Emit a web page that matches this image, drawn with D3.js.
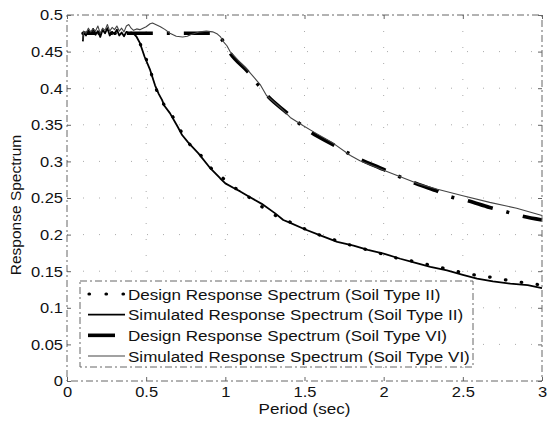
<!DOCTYPE html>
<html>
<head>
<meta charset="utf-8">
<script src="https://cdn.jsdelivr.net/npm/d3@7"></script>
<style>
  body { margin: 0; background: #fff; }
  text { font-family: "Liberation Sans", Arial, sans-serif; fill: #111; }
</style>
</head>
<body>
<script>
var svgWidth = 548;
var svgHeight = 421;

var plot = { left: 67, right: 542, top: 15, bottom: 381 };

// ---- data ----
var xTicks = [0, 0.5, 1, 1.5, 2, 2.5, 3];
var xTickLabels = ["0", "0.5", "1", "1.5", "2", "2.5", "3"];
var yTicks = [0, 0.05, 0.1, 0.15, 0.2, 0.25, 0.3, 0.35, 0.4, 0.45, 0.5];
var yTickLabels = ["0", "0.05", "0.1", "0.15", "0.2", "0.25", "0.3", "0.35", "0.4", "0.45", "0.5"];

var designIIPeriod = [0.1, 0.42, 0.45, 0.5, 0.525, 0.556, 0.6, 0.66, 0.71, 0.765, 0.835, 0.9, 0.98, 1.06, 1.15, 1.2, 1.3, 1.4, 1.5, 1.6, 1.7, 1.8, 1.9, 2.0, 2.1, 2.2, 2.3, 2.4, 2.5, 2.6, 2.7, 2.8, 2.9, 3.0];
var designIIValue  = [0.475, 0.475, 0.466, 0.440, 0.425, 0.403, 0.382, 0.364, 0.345, 0.326, 0.311, 0.293, 0.278, 0.264, 0.251, 0.243, 0.228, 0.218, 0.208, 0.199, 0.192, 0.185, 0.179, 0.173, 0.167, 0.163, 0.158, 0.153, 0.148, 0.144, 0.141, 0.137, 0.134, 0.131];

var simIIPeriod = [0.1, 0.105, 0.12, 0.135, 0.15, 0.165, 0.18, 0.195, 0.21, 0.225, 0.24, 0.255, 0.27, 0.285, 0.3, 0.315, 0.33, 0.345, 0.36, 0.375, 0.39, 0.405, 0.42, 0.44, 0.46, 0.49, 0.525, 0.556, 0.58, 0.6, 0.615, 0.65, 0.7, 0.727, 0.765, 0.83, 0.9, 0.967, 1.0, 1.05, 1.094, 1.14, 1.23, 1.315, 1.366, 1.41, 1.505, 1.6, 1.707, 1.81, 1.9, 2.0, 2.105, 2.19, 2.295, 2.4, 2.5, 2.59, 2.69, 2.8, 2.91, 3.0];
var simIIValue  = [0.464, 0.477, 0.472, 0.479, 0.474, 0.481, 0.473, 0.478, 0.470, 0.480, 0.475, 0.482, 0.472, 0.477, 0.474, 0.480, 0.472, 0.476, 0.471, 0.477, 0.475, 0.476, 0.475, 0.470, 0.462, 0.443, 0.425, 0.404, 0.392, 0.384, 0.376, 0.366, 0.347, 0.336, 0.326, 0.311, 0.292, 0.277, 0.270, 0.264, 0.259, 0.253, 0.242, 0.229, 0.220, 0.216, 0.207, 0.199, 0.190, 0.185, 0.179, 0.174, 0.167, 0.162, 0.156, 0.151, 0.145, 0.140, 0.136, 0.133, 0.131, 0.127];

var designVIPeriod = [0.1, 0.935, 0.98, 1.03, 1.144, 1.21, 1.264, 1.385, 1.46, 1.54, 1.68, 1.77, 1.85, 2.0, 2.08, 2.19, 2.33, 2.42, 2.52, 2.67, 2.76, 2.86, 3.0];
var designVIValue  = [0.475, 0.475, 0.466, 0.448, 0.422, 0.404, 0.390, 0.367, 0.353, 0.340, 0.323, 0.312, 0.303, 0.289, 0.281, 0.271, 0.260, 0.252, 0.247, 0.237, 0.232, 0.226, 0.220];

var simVIPeriod = [0.1, 0.105, 0.12, 0.135, 0.15, 0.165, 0.18, 0.195, 0.21, 0.225, 0.24, 0.255, 0.27, 0.285, 0.3, 0.315, 0.33, 0.345, 0.36, 0.375, 0.39, 0.405, 0.42, 0.44, 0.46, 0.48, 0.5, 0.525, 0.54, 0.56, 0.59, 0.62, 0.65, 0.69, 0.73, 0.76, 0.78, 0.81, 0.84, 0.88, 0.92, 0.95, 0.97, 0.99, 1.01, 1.03, 1.09, 1.14, 1.18, 1.22, 1.26, 1.35, 1.41, 1.49, 1.56, 1.68, 1.79, 1.85, 2.0, 2.21, 2.34, 2.5, 2.67, 2.84, 3.0];
var simVIValue  = [0.466, 0.478, 0.475, 0.482, 0.477, 0.481, 0.478, 0.485, 0.475, 0.482, 0.479, 0.487, 0.478, 0.483, 0.480, 0.485, 0.478, 0.482, 0.477, 0.485, 0.487, 0.482, 0.479, 0.481, 0.480, 0.482, 0.484, 0.488, 0.489, 0.487, 0.484, 0.480, 0.475, 0.471, 0.470, 0.471, 0.473, 0.475, 0.477, 0.478, 0.477, 0.474, 0.470, 0.463, 0.458, 0.450, 0.436, 0.425, 0.415, 0.405, 0.390, 0.373, 0.360, 0.349, 0.340, 0.325, 0.308, 0.301, 0.288, 0.270, 0.262, 0.253, 0.244, 0.236, 0.226];

var legendLabels = [
    "Design Response Spectrum (Soil Type II)",
    "Simulated Response Spectrum (Soil Type II)",
    "Design Response Spectrum (Soil Type VI)",
    "Simulated Response Spectrum (Soil Type VI)"
];

function zip(ts, vs) { return ts.map((t, i) => [t, vs[i]]); }

var series = [
    { data: zip(designIIPeriod, designIIValue), stroke: "#000", width: 3.2, dash: "0.5,15.5", cap: "round", curve: d3.curveMonotoneX },
    { data: zip(simIIPeriod, simIIValue), stroke: "#000", width: 1.8, dash: null, cap: "butt", curve: d3.curveLinear },
    { data: zip(designVIPeriod, designVIValue), stroke: "#000", width: 3.6, dash: "26,14,3,14", offset: 13, cap: "butt", curve: d3.curveMonotoneX },
    { data: zip(simVIPeriod, simVIValue), stroke: "#444", width: 1.1, dash: null, cap: "butt", curve: d3.curveLinear }
];

var svg = d3.select("body").append("svg")
    .attr("width", svgWidth)
    .attr("height", svgHeight);

var x = d3.scaleLinear().domain([0, 3]).range([plot.left, plot.right]);
var y = d3.scaleLinear().domain([0, 0.5]).range([plot.bottom, plot.top]);

// grid (faint, sparse dots like the scanned original)
var grid = svg.append("g")
    .attr("stroke", "#aaa")
    .attr("stroke-width", 1)
    .attr("stroke-dasharray", "1,15");
grid.selectAll(".gx").data(xTicks.slice(1, -1)).enter().append("line")
    .attr("x1", d => x(d)).attr("x2", d => x(d))
    .attr("y1", plot.top).attr("y2", plot.bottom);
grid.selectAll(".gy").data(yTicks.slice(1, -1)).enter().append("line")
    .attr("y1", d => y(d)).attr("y2", d => y(d))
    .attr("x1", plot.left).attr("x2", plot.right);

// curves
var line = d3.line().x(d => x(d[0])).y(d => y(d[1]));
series.forEach(s => {
    svg.append("path")
        .attr("d", line.curve(s.curve)(s.data))
        .attr("fill", "none")
        .attr("stroke", s.stroke)
        .attr("stroke-width", s.width)
        .attr("stroke-linecap", s.cap)
        .attr("stroke-linejoin", "round")
        .attr("stroke-dasharray", s.dash)
        .attr("stroke-dashoffset", s.offset || 0);
});

// axes (inward ticks on all four sides)
var bottomAxis = d3.axisBottom(x).tickValues(xTicks)
    .tickFormat((d, i) => xTickLabels[i]).tickSizeInner(-4).tickSizeOuter(0).tickPadding(5);
var topAxis = d3.axisTop(x).tickValues(xTicks).tickFormat("").tickSizeInner(-4).tickSizeOuter(0);
var leftAxis = d3.axisLeft(y).tickValues(yTicks)
    .tickFormat((d, i) => yTickLabels[i]).tickSizeInner(-4).tickSizeOuter(0).tickPadding(4);
var rightAxis = d3.axisRight(y).tickValues(yTicks).tickFormat("").tickSizeInner(-4).tickSizeOuter(0);

var gx = svg.append("g").attr("transform", `translate(0,${plot.bottom})`).call(bottomAxis);
var gt = svg.append("g").attr("transform", `translate(0,${plot.top})`).call(topAxis);
var gy = svg.append("g").attr("transform", `translate(${plot.left},0)`).call(leftAxis);
var gr = svg.append("g").attr("transform", `translate(${plot.right},0)`).call(rightAxis);
[gx, gt, gy, gr].forEach(g => {
    g.select(".domain").remove();
    g.selectAll("line").attr("stroke", "#666");
    g.selectAll("text").attr("font-size", 15).attr("fill", "#111")
        .attr("font-family", "Liberation Sans, Arial, sans-serif").classed("stretch", true);
});

// box
svg.append("rect")
    .attr("x", plot.left).attr("y", plot.top)
    .attr("width", plot.right - plot.left).attr("height", plot.bottom - plot.top)
    .attr("fill", "none").attr("stroke", "#666").attr("stroke-width", 1)
    .attr("stroke-dasharray", "7,3,2,3");

// axis labels
svg.append("text").attr("class", "stretch")
    .attr("x", (plot.left + plot.right) / 2).attr("y", 414)
    .attr("text-anchor", "middle").attr("font-size", 15.5)
    .text("Period (sec)");
svg.append("text")
    .attr("transform", `translate(21,${(plot.top + plot.bottom) / 2 + 7}) rotate(-90)`)
    .attr("text-anchor", "middle").attr("font-size", 15.5)
    .text("Response Spectrum");

// legend
var legend = svg.append("g");
legend.append("rect")
    .attr("x", 80).attr("y", 281).attr("width", 393).attr("height", 86)
    .attr("fill", "#fff").attr("stroke", "#666").attr("stroke-width", 1)
    .attr("stroke-dasharray", "7,3,2,3");
var rowY = d3.scaleLinear().domain([0, 3]).range([294, 356]);
legendLabels.forEach((lab, i) => {
    var s = series[i];
    legend.append("line")
        .attr("x1", i === 0 ? 89 : 88).attr("x2", i === 2 ? 115 : 125)
        .attr("y1", rowY(i)).attr("y2", rowY(i))
        .attr("stroke", s.stroke).attr("stroke-width", s.width)
        .attr("stroke-linecap", s.cap)
        .attr("stroke-dasharray", i === 0 ? "0.5,16.5" : null);
    legend.append("text").attr("class", "stretch")
        .attr("x", 128).attr("y", rowY(i) + 5.5)
        .attr("font-size", 15.5)
        .text(lab);
});

// printed fonts in the source look a little wider than Arial
svg.selectAll("text.stretch").each(function() {
    var w = this.getComputedTextLength();
    if (w > 0) d3.select(this).attr("textLength", w * 1.1).attr("lengthAdjust", "spacingAndGlyphs");
});
</script>
</body>
</html>
